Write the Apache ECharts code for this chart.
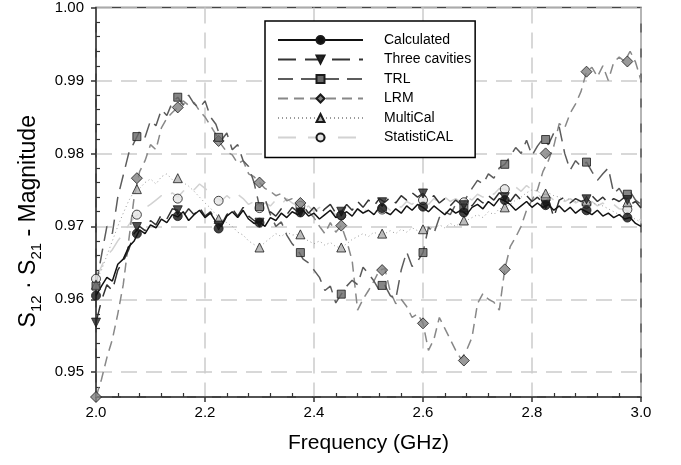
<!DOCTYPE html>
<html>
<head>
<meta charset="utf-8">
<script src="https://cdn.jsdelivr.net/npm/echarts@6/dist/echarts.min.js"></script>
<style>
html, body { margin: 0; padding: 0; background: #fff; }
#main { width: 681px; height: 465px; }
</style>
</head>
<body>
<div id="main"></div>
<script>
// sample grid: 2.00 ... 3.00 GHz, 0.01 step
var freq = [];
for (var i = 0; i <= 100; i++) { freq.push(+(2 + i * 0.01).toFixed(2)); }

// marker positions (GHz)
var markFreq = [2.0, 2.075, 2.15, 2.225, 2.3, 2.375, 2.45, 2.525, 2.6, 2.675, 2.75, 2.825, 2.9, 2.975];

var calculated = [
  0.9605,0.9618,0.9630,0.9625,0.9648,0.9655,0.9672,0.9680,0.9695,0.9690,
  0.9702,0.9698,0.9710,0.9705,0.9716,0.9713,0.9720,0.9708,0.9716,0.9722,
  0.9712,0.9718,0.9706,0.9700,0.9714,0.9720,0.9712,0.9722,0.9710,0.9704,
  0.9706,0.9700,0.9712,0.9708,0.9718,0.9712,0.9720,0.9716,0.9722,0.9714,
  0.9718,0.9710,0.9716,0.9722,0.9712,0.9715,0.9720,0.9714,0.9724,0.9718,
  0.9722,0.9716,0.9726,0.9720,0.9716,0.9724,0.9718,0.9728,0.9722,0.9730,
  0.9726,0.9720,0.9728,0.9722,0.9716,0.9724,0.9718,0.9722,0.9716,0.9726,
  0.9730,0.9724,0.9734,0.9728,0.9738,0.9735,0.9730,0.9722,0.9728,0.9734,
  0.9726,0.9732,0.9726,0.9730,0.9722,0.9728,0.9720,0.9726,0.9718,0.9724,
  0.9720,0.9716,0.9722,0.9714,0.9718,0.9712,0.9716,0.9710,0.9712,0.9704,
  0.9700
];
var threeCavities = [
  0.9568,0.9598,0.9620,0.9612,0.9640,0.9652,0.9668,0.9690,0.9700,0.9694,
  0.9708,0.9702,0.9716,0.9710,0.9724,0.9722,0.9714,0.9724,0.9716,0.9726,
  0.9714,0.9720,0.9708,0.9702,0.9716,0.9724,0.9714,0.9726,0.9714,0.9708,
  0.9705,0.9712,0.9720,0.9714,0.9724,0.9716,0.9726,0.9720,0.9728,0.9718,
  0.9726,0.9716,0.9724,0.9730,0.9718,0.9720,0.9730,0.9722,0.9734,0.9726,
  0.9736,0.9728,0.9738,0.9733,0.9740,0.9732,0.9742,0.9736,0.9746,0.9740,
  0.9745,0.9736,0.9742,0.9732,0.9738,0.9728,0.9736,0.9730,0.9734,0.9728,
  0.9738,0.9732,0.9742,0.9736,0.9746,0.9740,0.9734,0.9744,0.9736,0.9742,
  0.9734,0.9740,0.9732,0.9738,0.9712,0.9736,0.9740,0.9732,0.9738,0.9734,
  0.9737,0.9742,0.9734,0.9740,0.9732,0.9738,0.9734,0.9740,0.9730,0.9734,
  0.9725
];
var trl = [
  0.9618,0.9660,0.9700,0.9690,0.9740,0.9770,0.9800,0.9815,0.9830,0.9822,
  0.9845,0.9838,0.9860,0.9852,0.9870,0.9877,0.9866,0.9880,0.9868,0.9862,
  0.9872,0.9850,0.9840,0.9818,0.9828,0.9805,0.9812,0.9790,0.9782,0.9760,
  0.9727,0.9738,0.9716,0.9700,0.9706,0.9688,0.9676,0.9668,0.9655,0.9650,
  0.9640,0.9630,0.9612,0.9618,0.9595,0.9607,0.9618,0.9626,0.9620,0.9644,
  0.9635,0.9625,0.9612,0.9619,0.9605,0.9600,0.9640,0.9665,0.9645,0.9652,
  0.9664,0.9699,0.9690,0.9712,0.9720,0.9716,0.9730,0.9724,0.9740,0.9752,
  0.9763,0.9758,0.9772,0.9766,0.9780,0.9785,0.9796,0.9808,0.9800,0.9818,
  0.9797,0.9810,0.9820,0.9812,0.9828,0.9836,0.9800,0.9777,0.9790,0.9782,
  0.9788,0.9775,0.9763,0.9772,0.9780,0.9745,0.9752,0.9740,0.9748,0.9736,
  0.9730
];
var lrm = [
  0.9466,0.9490,0.9520,0.9545,0.9580,0.9620,0.9680,0.9740,0.9775,0.9790,
  0.9812,0.9805,0.9835,0.9848,0.9856,0.9863,0.9872,0.9866,0.9870,0.9858,
  0.9850,0.9838,0.9826,0.9812,0.9802,0.9798,0.9786,0.9790,0.9772,0.9768,
  0.9760,0.9752,0.9748,0.9742,0.9745,0.9735,0.9738,0.9730,0.9726,0.9720,
  0.9712,0.9700,0.9690,0.9705,0.9692,0.9701,0.9680,0.9653,0.9585,0.9600,
  0.9612,0.9625,0.9640,0.9642,0.9610,0.9594,0.9600,0.9590,0.9575,0.9580,
  0.9567,0.9530,0.9545,0.9575,0.9560,0.9545,0.9530,0.9518,0.9530,0.9548,
  0.9594,0.9608,0.9600,0.9596,0.9585,0.9641,0.9672,0.9685,0.9700,0.9722,
  0.9736,0.9750,0.9775,0.9790,0.9810,0.9841,0.9835,0.9855,0.9868,0.9885,
  0.9912,0.9918,0.9905,0.9920,0.9900,0.9925,0.9932,0.9926,0.9940,0.9925,
  0.9900
];
var multiCal = [
  0.9625,0.9640,0.9660,0.9680,0.9700,0.9718,0.9735,0.9748,0.9752,0.9760,
  0.9765,0.9758,0.9768,0.9772,0.9764,0.9766,0.9760,0.9755,0.9748,0.9740,
  0.9732,0.9725,0.9716,0.9710,0.9705,0.9700,0.9692,0.9688,0.9680,0.9675,
  0.9671,0.9678,0.9684,0.9690,0.9686,0.9692,0.9688,0.9689,0.9684,0.9680,
  0.9676,0.9680,0.9674,0.9678,0.9672,0.9671,0.9676,0.9682,0.9686,0.9690,
  0.9686,0.9692,0.9688,0.9690,0.9694,0.9690,0.9696,0.9692,0.9698,0.9694,
  0.9696,0.9700,0.9696,0.9702,0.9698,0.9704,0.9700,0.9706,0.9708,0.9712,
  0.9716,0.9712,0.9720,0.9716,0.9724,0.9726,0.9730,0.9736,0.9740,0.9746,
  0.9750,0.9748,0.9744,0.9746,0.9742,0.9740,0.9736,0.9738,0.9734,0.9736,
  0.9735,0.9732,0.9730,0.9728,0.9724,0.9720,0.9716,0.9718,0.9712,0.9710,
  0.9705
];
var statistiCal = [
  0.9628,0.9645,0.9660,0.9668,0.9680,0.9690,0.9702,0.9712,0.9718,0.9725,
  0.9730,0.9736,0.9742,0.9738,0.9746,0.9740,0.9748,0.9755,0.9750,0.9758,
  0.9752,0.9746,0.9740,0.9735,0.9742,0.9736,0.9744,0.9738,0.9730,0.9734,
  0.9725,0.9732,0.9728,0.9736,0.9730,0.9738,0.9732,0.9728,0.9722,0.9728,
  0.9720,0.9726,0.9718,0.9722,0.9716,0.9715,0.9722,0.9716,0.9724,0.9718,
  0.9726,0.9720,0.9723,0.9728,0.9722,0.9730,0.9726,0.9734,0.9730,0.9738,
  0.9736,0.9730,0.9738,0.9732,0.9740,0.9734,0.9738,0.9733,0.9740,0.9736,
  0.9744,0.9740,0.9748,0.9744,0.9752,0.9751,0.9746,0.9754,0.9748,0.9756,
  0.9750,0.9744,0.9738,0.9742,0.9736,0.9740,0.9734,0.9738,0.9732,0.9736,
  0.9731,0.9734,0.9728,0.9732,0.9726,0.9730,0.9724,0.9723,0.9720,0.9714,
  0.9708
];

// marker values at markFreq
var calculatedMarks = [0.9605, 0.9690, 0.9714, 0.9697, 0.9705, 0.9719, 0.9715, 0.9725, 0.9727, 0.9719, 0.9736, 0.9729, 0.9722, 0.9712];
var threeCavitiesMarks = [0.9568, 0.9699, 0.9722, 0.9701, 0.9705, 0.9719, 0.9720, 0.9733, 0.9745, 0.9729, 0.9740, 0.9730, 0.9737, 0.9736];
var trlMarks = [0.9618, 0.9823, 0.9877, 0.9822, 0.9727, 0.9664, 0.9607, 0.9619, 0.9664, 0.9725, 0.9785, 0.9819, 0.9788, 0.9744];
var lrmMarks = [0.9466, 0.9766, 0.9863, 0.9817, 0.9760, 0.9732, 0.9701, 0.9640, 0.9567, 0.9516, 0.9641, 0.9800, 0.9912, 0.9926];
var multiCalMarks = [0.9620, 0.9751, 0.9766, 0.9710, 0.9671, 0.9689, 0.9671, 0.9690, 0.9696, 0.9708, 0.9726, 0.9745, 0.9735, 0.9733];
var statistiCalMarks = [0.9628, 0.9716, 0.9738, 0.9735, 0.9725, 0.9728, 0.9715, 0.9723, 0.9736, 0.9733, 0.9751, 0.9738, 0.9731, 0.9723];

var FONT = "'Liberation Sans', Arial, sans-serif";

function pairs(xs, ys) {
  var out = [];
  for (var k = 0; k < ys.length; k++) { out.push([xs[k], ys[k]]); }
  return out;
}

// 一条曲线 + 一组标记
function addSeries(list, cfg) {
  var mark = {
    symbol: cfg.symbol,
    symbolSize: cfg.size,
    symbolRotate: cfg.rotate || 0,
    itemStyle: { color: cfg.fill, borderColor: "#1a1a1a", borderWidth: 1 }
  };
  list.push({
    name: cfg.name,
    type: "line",
    data: pairs(freq, cfg.values),
    showSymbol: false,
    symbol: mark.symbol,
    symbolRotate: mark.symbolRotate,
    itemStyle: mark.itemStyle,
    lineStyle: { color: cfg.color, width: cfg.width || 1.5, type: cfg.dash },
    z: cfg.z,
    silent: true
  });
  list.push({
    name: cfg.name + " marks",
    type: "scatter",
    data: pairs(markFreq, cfg.marks),
    symbol: mark.symbol,
    symbolSize: mark.symbolSize,
    symbolRotate: mark.symbolRotate,
    itemStyle: mark.itemStyle,
    z: 10,
    silent: true
  });
}

var series = [];
addSeries(series, { name: "StatistiCAL", values: statistiCal, marks: statistiCalMarks, color: "#d2d2d2", dash: [18, 12], symbol: "circle", size: 9, fill: "#e4e4e4", z: 2 });
addSeries(series, { name: "MultiCal", values: multiCal, marks: multiCalMarks, color: "#9a9a9a", dash: [1, 3], width: 1, symbol: "triangle", size: 9, fill: "#adadad", z: 2 });
addSeries(series, { name: "LRM", values: lrm, marks: lrmMarks, color: "#888888", dash: [10, 6], symbol: "diamond", size: 11, fill: "#808080", z: 3 });
addSeries(series, { name: "TRL", values: trl, marks: trlMarks, color: "#5c5c5c", dash: [15, 8], symbol: "rect", size: 8, fill: "#666666", z: 4 });
addSeries(series, { name: "Three cavities", values: threeCavities, marks: threeCavitiesMarks, color: "#333333", dash: [18, 9], symbol: "triangle", rotate: 180, size: 9, fill: "#262626", z: 5 });
addSeries(series, { name: "Calculated", values: calculated, marks: calculatedMarks, color: "#111111", dash: "solid", symbol: "circle", size: 9, fill: "#111111", z: 6 });

var chart = echarts.init(document.getElementById("main"), null, { renderer: "canvas" });

var option = {
  animation: false,
  backgroundColor: "#fff",
  grid: {
    left: 96, right: 40, top: 7, bottom: 68,
    show: true, borderColor: "#444", borderWidth: 1.5, backgroundColor: "transparent"
  },
  legend: {
    data: ["Calculated", "Three cavities", "TRL", "LRM", "MultiCal", "StatistiCAL"],
    orient: "vertical",
    left: 265, top: 21,
    padding: [12, 4, 13, 12],
    itemWidth: 85, itemHeight: 10, itemGap: 5.5,
    backgroundColor: "#fff",
    borderColor: "#000", borderWidth: 1.5,
    selectedMode: false,
    textStyle: { fontFamily: FONT, fontSize: 14, color: "#000", padding: [0, 0, 0, 16] }
  },
  xAxis: [{
    type: "value", min: 2, max: 3, interval: 0.2,
    name: "Frequency (GHz)", nameLocation: "middle", nameGap: 36,
    nameTextStyle: { fontFamily: FONT, fontSize: 21, color: "#000" },
    axisLine: { lineStyle: { color: "#333", width: 1.5 } },
    axisTick: { show: true, length: 5, lineStyle: { color: "#333", width: 1.5 } },
    axisLabel: { fontFamily: FONT, fontSize: 15, color: "#000", margin: 8,
      formatter: function (v) { return v.toFixed(1); } },
    splitLine: { show: true, lineStyle: { color: "#cccccc", width: 1.5, type: [16, 9] } }
  }, {
    type: "value", min: 2, max: 3, interval: 0.2, position: "bottom",
    axisLine: { show: false }, axisLabel: { show: false },
    axisTick: { show: false, inside: true },
    minorTick: { show: true, splitNumber: 5, length: 4, lineStyle: { color: "#333", width: 1.2 } },
    splitLine: { show: false }
  }],
  yAxis: [{
    type: "value", min: 0.9466, max: 1.0, splitNumber: 5,
    name: "{n|S}{s|12}{n| · S}{s|21}{n| - Magnitude}", nameLocation: "middle", nameGap: 52, nameRotate: 90,
    nameTextStyle: {
      fontFamily: FONT, color: "#000", padding: [0, 38, 0, 0],
      rich: {
        n: { fontFamily: FONT, fontSize: 23, lineHeight: 30, color: "#000" },
        s: { fontFamily: FONT, fontSize: 15, lineHeight: 15, verticalAlign: "bottom", color: "#000" }
      }
    },
    axisLine: { show: true, lineStyle: { color: "#333", width: 1.5 } },
    axisTick: { show: true, length: 5, lineStyle: { color: "#333", width: 1.5 } },
    axisLabel: { fontFamily: FONT, fontSize: 15, color: "#000", margin: 12, showMinLabel: false,
      formatter: function (v) { return v.toFixed(2); } },
    splitLine: { show: true, lineStyle: { color: "#cccccc", width: 1.5, type: [16, 9] } }
  }, {
    type: "value", min: 0.9466, max: 1.0, splitNumber: 5, position: "left",
    axisLine: { show: false }, axisLabel: { show: false },
    axisTick: { show: false, inside: true },
    minorTick: { show: true, splitNumber: 5, length: 4, lineStyle: { color: "#333", width: 1.2 } },
    splitLine: { show: false }
  }],
  series: series
};

chart.setOption(option);

window.addEventListener("resize", function () {
  chart.resize();
});
</script>
</body>
</html>
